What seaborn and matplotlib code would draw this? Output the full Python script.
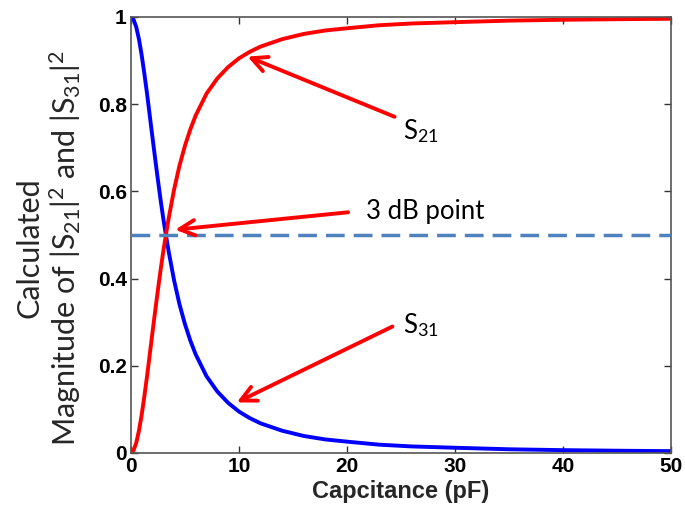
import matplotlib
matplotlib.use("Agg")
import matplotlib.pyplot as plt
import seaborn as sns
import pandas as pd

# Capacitance (pF) sample points
cap_pf = [0, 0.25, 0.5, 0.75, 1, 1.25, 1.5, 1.75, 2, 2.25, 2.5, 2.75, 3, 3.25,
          3.5, 4, 4.5, 5, 5.5, 6, 7, 8, 9, 10, 11, 12, 14, 16, 18, 20, 23, 26,
          30, 35, 40, 45, 50]
s31_vals = [1.000, 0.994, 0.977, 0.949, 0.913, 0.870, 0.824, 0.774, 0.724,
            0.675, 0.627, 0.581, 0.538, 0.499, 0.462, 0.396, 0.341, 0.296,
            0.258, 0.226, 0.176, 0.141, 0.115, 0.095, 0.080, 0.068, 0.051,
            0.039, 0.031, 0.026, 0.019, 0.015, 0.012, 0.0085, 0.0065, 0.0052,
            0.0042]
s21_vals = [0.000, 0.006, 0.023, 0.051, 0.087, 0.130, 0.176, 0.226, 0.276,
            0.325, 0.373, 0.419, 0.462, 0.501, 0.538, 0.604, 0.659, 0.704,
            0.742, 0.774, 0.824, 0.859, 0.885, 0.905, 0.920, 0.932, 0.949,
            0.961, 0.969, 0.974, 0.981, 0.985, 0.988, 0.9915, 0.9935, 0.9948,
            0.9958]
x_ticks = [0, 10, 20, 30, 40, 50]
y_ticks = [0, 0.2, 0.4, 0.6, 0.8, 1]
y_tick_labels = ["0", "0.2", "0.4", "0.6", "0.8", "1"]
half_power = 0.5

df = pd.DataFrame({"cap": cap_pf, "S31": s31_vals, "S21": s21_vals})

sns.set_style("ticks")
plt.rcParams["font.family"] = ["Liberation Sans", "DejaVu Sans"]
plt.rcParams["mathtext.fontset"] = "custom"
plt.rcParams["mathtext.rm"] = "Lato"
plt.rcParams["mathtext.it"] = "Lato:italic"
plt.rcParams["mathtext.bf"] = "Lato:bold"

fig = plt.figure(figsize=(6.85, 5.13), dpi=100)
ax = fig.add_axes([0.191, 0.117, 0.789, 0.850])

sns.lineplot(data=df, x="cap", y="S31", ax=ax, color="#0000FF", lw=2.8)
sns.lineplot(data=df, x="cap", y="S21", ax=ax, color="#FF0000", lw=2.8)
ax.axhline(half_power, color="#4F81BD", lw=2.5, dashes=(5.4, 2.6), zorder=3)

ax.set_xlim(0, 50)
ax.set_ylim(0, 1)
ax.set_xticks(x_ticks)
ax.set_yticks(y_ticks)
ax.set_yticklabels(y_tick_labels)
ax.tick_params(direction="in", length=5, width=1, top=True, right=True,
               labelsize=15, colors="#333333", labelcolor="black", pad=3)
for lab in ax.get_xticklabels() + ax.get_yticklabels():
    lab.set_fontweight("bold")
for sp in ax.spines.values():
    sp.set_visible(True)
    sp.set_color("#555555")
    sp.set_linewidth(1.2)

ax.set_xlabel("Capcitance (pF)", fontsize=17, fontweight="bold", labelpad=3)
ax.set_ylabel("Calculated\nMagnitude of |S$_{21}$|$^2$ and |S$_{31}$|$^2$",
              fontsize=22, family=["Lato", "DejaVu Sans"], linespacing=1.15,
              multialignment="center")
ax.yaxis.set_label_coords(-0.088, 0.47)

arrow_kw = dict(arrowstyle="->,head_length=1.1,head_width=0.55",
                color="#FF0000", lw=2.8, shrinkA=0, shrinkB=0)
ax.annotate("", xy=(10.8, 0.909), xytext=(24.4, 0.771), arrowprops=arrow_kw,
            zorder=5)
ax.annotate("", xy=(4.1, 0.512), xytext=(20.1, 0.552), arrowprops=arrow_kw,
            zorder=5)
ax.annotate("", xy=(9.8, 0.116), xytext=(24.2, 0.290), arrowprops=arrow_kw,
            zorder=5)

txt_kw = dict(fontsize=18.5, family=["Lato", "DejaVu Sans"], color="black")
ax.text(26.85, 0.738, "S$_{21}$", ha="center", va="center", **txt_kw)
ax.text(21.8, 0.553, "3 dB point", ha="left", va="center", **txt_kw)
ax.text(26.8, 0.294, "S$_{31}$", ha="center", va="center", **txt_kw)

fig.savefig("out.png", dpi=100)
